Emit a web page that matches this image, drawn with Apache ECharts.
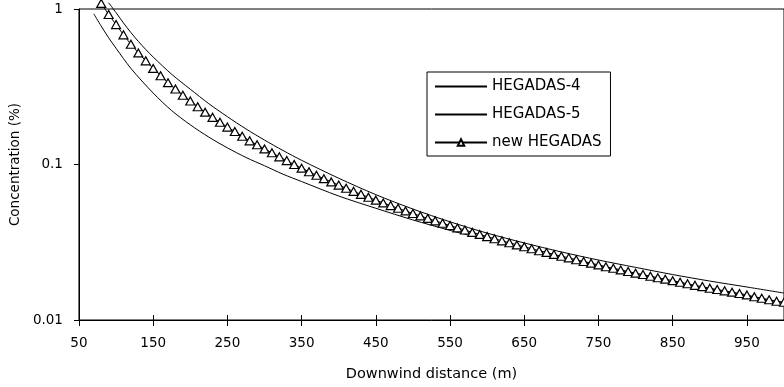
<!DOCTYPE html>
<html>
<head>
<meta charset="utf-8">
<script src="https://cdn.jsdelivr.net/npm/echarts@6/dist/echarts.min.js"></script>
<style>
html,body{margin:0;padding:0;background:#fff;}
#chart{width:784px;height:387px;}
</style>
</head>
<body>
<div id="chart"></div>
<script>
// Downwind distance (m) for the "new HEGADAS" markers
const newX = [80,90,100,110,120,130,140,150,160,170,180,190,200,210,220,230,240,250,260,270,280,290,300,310,320,330,340,350,360,370,380,390,400,410,420,430,440,450,460,470,480,490,500,510,520,530,540,550,560,570,580,590,600,610,620,630,640,650,660,670,680,690,700,710,720,730,740,750,760,770,780,790,800,810,820,830,840,850,860,870,880,890,900,910,920,930,940,950,960,970,980,990,1000];
const newC = [1.086,0.921,0.794,0.682,0.593,0.522,0.464,0.415,0.372,0.336,0.306,0.279,0.256,0.235,0.217,0.201,0.187,0.174,0.163,0.152,0.142,0.134,0.126,0.119,0.112,0.106,0.100,0.0947,0.0898,0.0853,0.0811,0.0773,0.0737,0.0704,0.0672,0.0643,0.0616,0.0590,0.0566,0.0544,0.0523,0.0503,0.0484,0.0467,0.0450,0.0434,0.0419,0.0405,0.0391,0.0379,0.0366,0.0355,0.0344,0.0333,0.0323,0.0314,0.0304,0.0296,0.0287,0.0279,0.0272,0.0264,0.0257,0.0251,0.0244,0.0238,0.0232,0.0226,0.0220,0.0215,0.0210,0.0205,0.0200,0.0196,0.0191,0.0187,0.0183,0.0179,0.0175,0.0171,0.0167,0.0164,0.0160,0.0157,0.0154,0.0151,0.0148,0.0145,0.0141,0.0138,0.0135,0.0132,0.0130];

// HEGADAS-4 (lower curve)
const h4X = [70,80,90,100,120,150,175,200,225,250,275,300,325,350,400,450,500,550,600,650,700,750,800,850,900,950,1000];
const h4C = [0.93,0.776,0.653,0.559,0.415,0.288,0.222,0.180,0.150,0.128,0.111,0.0982,0.0866,0.0777,0.0627,0.0523,0.0440,0.0377,0.0328,0.0286,0.0252,0.0223,0.0197,0.0176,0.0158,0.0143,0.0129];

// HEGADAS-5 (upper curve)
const h5X = [90,100,110,120,130,140,150,175,200,225,250,275,300,325,350,400,450,500,550,600,650,700,750,800,850,900,950,1000];
const h5C = [1.097,0.947,0.813,0.705,0.619,0.549,0.491,0.380,0.305,0.246,0.203,0.1694,0.1436,0.123,0.1064,0.0816,0.0640,0.0517,0.0428,0.0362,0.0313,0.0274,0.0243,0.0218,0.0196,0.0178,0.0163,0.0149];

const seriesNames = ['HEGADAS-4','HEGADAS-5','new HEGADAS'];
const xTicks = {min:50, max:1000, interval:100};
const yTickLabels = ['0.01','0.1','1'];

function pairs(xs, ys){ return xs.map((x,i)=>[x, ys[i]]); }

const FONT = 'DejaVu Sans';
const chart = echarts.init(document.getElementById('chart'), null, {renderer:'canvas'});
chart.setOption({
  animation:false,
  backgroundColor:'#fff',
  grid:{left:77, top:9, right:-2, bottom:63, show:true, borderColor:'#000', borderWidth:1, backgroundColor:'transparent'},
  legend:{
    orient:'vertical', left:427, top:72,
    padding:[7,9,6,7],
    itemWidth:52, itemHeight:8, itemGap:13,
    borderColor:'#000', borderWidth:1, backgroundColor:'#fff',
    textStyle:{fontFamily:FONT, fontSize:15, color:'#000'},
    data:[
      {name:seriesNames[0], itemStyle:{opacity:0}},
      {name:seriesNames[1], itemStyle:{opacity:0}},
      {name:seriesNames[2]}
    ]
  },
  xAxis:[{
    type:'value', min:xTicks.min, max:xTicks.max, interval:xTicks.interval,
    name:'Downwind distance (m)', nameLocation:'middle', nameGap:47,
    nameTextStyle:{fontFamily:FONT, fontSize:14.5, color:'#000'},
    axisLine:{show:true, onZero:false, lineStyle:{color:'#000', width:1}},
    axisTick:{show:true, inside:false, length:6, lineStyle:{color:'#000'}},
    axisLabel:{fontFamily:FONT, fontSize:13.5, color:'#000', margin:16, showMaxLabel:false},
    splitLine:{show:false}
  },{
    type:'value', position:'bottom', min:xTicks.min, max:xTicks.max, interval:xTicks.interval,
    axisLine:{show:false, onZero:false},
    axisTick:{show:true, inside:true, length:5, lineStyle:{color:'#000'}},
    axisLabel:{show:false},
    splitLine:{show:false}
  }],
  yAxis:{
    type:'log', logBase:10, min:0.01, max:1,
    name:'Concentration (%)', nameLocation:'middle', nameGap:50, nameRotate:90,
    nameTextStyle:{fontFamily:FONT, fontSize:13.5, color:'#000'},
    axisLine:{show:true, lineStyle:{color:'#000', width:1}},
    axisTick:{show:true, inside:false, length:5, lineStyle:{color:'#000'}},
    minorTick:{show:false},
    axisLabel:{fontFamily:FONT, fontSize:13.5, color:'#000', margin:16,
      formatter:function(v){ const e=Math.round(Math.log10(v)); return yTickLabels[e+2]; }},
    splitLine:{show:false}
  },
  series:[
    {name:seriesNames[0], type:'line', data:pairs(h4X,h4C), symbol:'none', smooth:0.3, clip:false,
     lineStyle:{color:'#000', width:1}, itemStyle:{color:'#000'}},
    {name:seriesNames[1], type:'line', data:pairs(h5X,h5C), symbol:'none', smooth:0.3, clip:false,
     lineStyle:{color:'#000', width:1}, itemStyle:{color:'#000'}},
    {name:seriesNames[2], type:'line', data:pairs(newX,newC), symbol:'triangle', symbolSize:[9,8], clip:false,
     lineStyle:{color:'#000', width:1}, itemStyle:{color:'#fff', borderColor:'#000', borderWidth:1.2}, z:3}
  ]
});
</script>
</body>
</html>
